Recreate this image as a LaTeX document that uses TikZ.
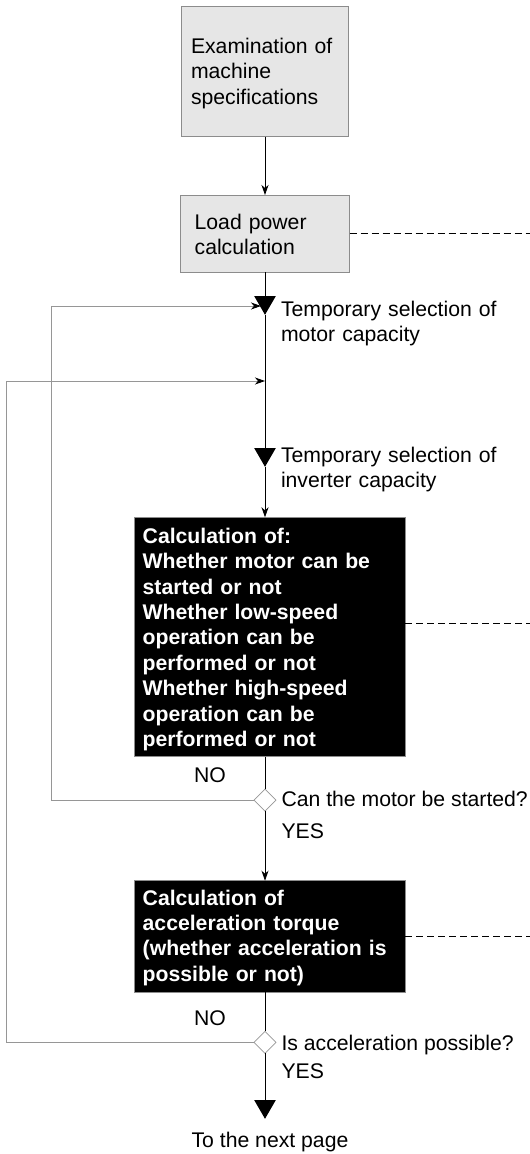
\documentclass[tikz,border=0pt]{standalone}
\usepackage{fontspec}
\setmainfont{Liberation Sans}
\usetikzlibrary{shapes.geometric,arrows.meta}
\definecolor{boxgrey}{RGB}{230, 230, 230}
\definecolor{rimgrey}{RGB}{140, 140, 140}
\definecolor{backgrey}{RGB}{150, 150, 150}

\begin{document}
\begin{tikzpicture}[x=1pt, y=-1pt,
        every node/.style={font=\fontsize{21.2}{25.4}\selectfont, inner sep=0pt, outer sep=0pt},
        greybox/.style={draw=rimgrey, fill=boxgrey, line width=0.8pt, anchor=north west, align=left},
        blackbox/.style={draw=rimgrey, fill=black, text=white, line width=0.8pt, anchor=north west, align=left,
                         font=\fontsize{21.2}{25.4}\selectfont\bfseries},
        marker/.style={regular polygon, regular polygon sides=3, shape border rotate=180, fill=black, minimum size=25pt},
        query/.style={diamond, draw=backgrey, fill=white, line width=0.7pt, minimum width=22pt, minimum height=22pt},
        note/.style={anchor=base west, align=left},
        flow/.style={black, line width=0.9pt},
        arr/.style={flow, -{Stealth[length=10pt, width=7pt, inset=3pt]}},
        backline/.style={backgrey, line width=0.9pt, -{Stealth[length=10pt, width=7pt, inset=3pt, color=black]}},
        dashline/.style={black, line width=0.7pt, dash pattern=on 7pt off 4pt}]
    \useasboundingbox (0,0) rectangle (530,1154);

    \node[greybox,  inner xsep=9.3pt,  text width=148pt,   text height=47.5pt, text depth=83.2pt]  (exam)  at (181.7,  6.0) {Examination of\\machine\\specifications};
    \node[greybox,  inner xsep=14.3pt, text width=140.7pt, text height=34pt,   text depth=43.3pt]  (load)  at (180.35,195.0) {Load power\\calculation};
    \node[marker]                                                                                  (sel1)  at (265, 302.3) {};
    \node[note, text width=240pt]                                                                  (sel1txt) at (281, 316) {Temporary selection of\\motor capacity};
    \node[marker]                                                                                  (sel2)  at (265, 454.3) {};
    \node[note, text width=240pt]                                                                  (sel2txt) at (281, 462) {Temporary selection of\\inverter capacity};
    \node[blackbox, inner xsep=8.7pt,  text width=253.6pt, text height=26pt,   text depth=213.4pt] (calc1) at (134, 517.3)
        {Calculation of:\\Whether motor can be\\started or not\\Whether low-speed\\operation can be\\performed or not\\Whether high-speed\\operation can be\\performed or not};
    \node[query]                                                                                   (q1)    at (265, 800) {};
    \node[anchor=base]                                                                             (no1)   at (210, 782) {NO};
    \node[note]                                                                                    (q1txt) at (281.5, 806) {Can the motor be started?};
    \node[note]                                                                                    (yes1)  at (281.5, 838) {YES};
    \node[blackbox, inner xsep=8.7pt,  text width=253.6pt, text height=24.3pt, text depth=87.3pt]  (calc2) at (134, 880.7)
        {Calculation of\\acceleration torque\\(whether acceleration is\\possible or not)};
    \node[query]                                                                                   (q2)    at (265, 1042.3) {};
    \node[anchor=base]                                                                             (no2)   at (210, 1025) {NO};
    \node[note]                                                                                    (q2txt) at (281.5, 1050) {Is acceleration possible?};
    \node[note]                                                                                    (yes2)  at (281.5, 1078) {YES};
    \node[marker]                                                                                  (next)  at (265, 1106.3) {};
    \node[anchor=base]                                                                             (nexttxt) at (270, 1147) {To the next page};

    \coordinate (in1)  at (261, 306);
    \coordinate (in2)  at (265, 381);
    \coordinate (ret1) at (51, 306);
    \coordinate (ret2) at (6.5, 381);
    \coordinate (out1) at (530, 233.65);
    \coordinate (out2) at (530, 623);
    \coordinate (out3) at (530, 936.5);

    \draw[arr]  (exam) -- (load);
    \draw[flow] (load) -- (sel1);
    \draw[flow] (sel1) -- (sel2);
    \draw[arr]  (sel2) -- (sel2 |- calc1.north);
    \draw[flow] (calc1.south -| q1) -- (q1);
    \draw[arr]  (q1) -- (q1 |- calc2.north);
    \draw[flow] (calc2.south -| q2) -- (q2);
    \draw[flow] (q2) -- (next);
    \draw[backline] (q1) -| (ret1) -- (in1);
    \draw[backline] (q2) -| (ret2) -- (in2);
    \draw[dashline] (load.east) -- (out1);
    \draw[dashline] (calc1.east |- out2) -- (out2);
    \draw[dashline] (calc2.east) -- (out3);
\end{tikzpicture}
\end{document}
